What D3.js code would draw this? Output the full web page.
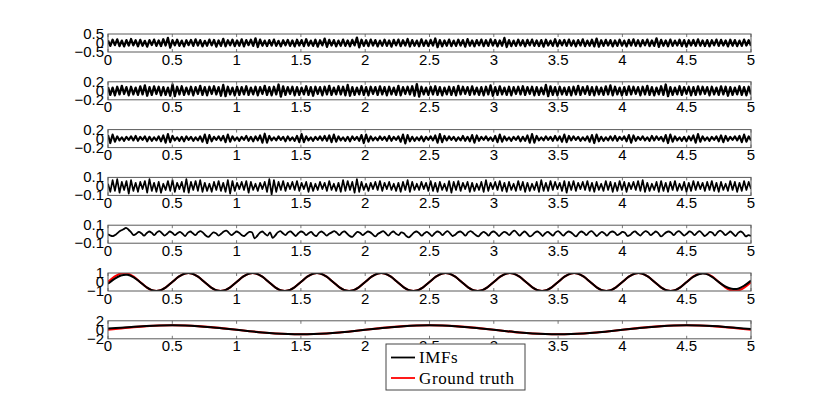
<!DOCTYPE html>
<html>
<head>
<meta charset="utf-8">
<script src="https://cdn.jsdelivr.net/npm/d3@7"></script>
<style>
body { margin: 0; background: #fff; }
svg text { font-family: "Liberation Sans", Arial, sans-serif; }
</style>
</head>
<body>
<svg id="chart" width="830" height="397"></svg>
<script>
// x ticks, shared by every panel
const xTicks = [0, 0.5, 1, 1.5, 2, 2.5, 3, 3.5, 4, 4.5, 5]
const xTickLabels = ["0", "0.5", "1", "1.5", "2", "2.5", "3", "3.5", "4", "4.5", "5"]

// symmetric y limit and tick labels of each panel
const yLimits = [0.5, 0.2, 0.2, 0.1, 0.1, 1, 2]
const yTickLabels = [
    ["0.5", "0", "\u22120.5"],
    ["0.2", "0", "\u22120.2"],
    ["0.2", "0", "\u22120.2"],
    ["0.1", "0", "\u22120.1"],
    ["0.1", "0", "\u22120.1"],
    ["1", "0", "\u22121"],
    ["2", "0", "\u22122"]
]

// IMF 1 (noise)
const imf1 = [
    .14,-.16,.18,-.12,.20,-.17,.13,-.19,.16,-.14,.22,-.13,.15,-.18,.17,-.15,.12,-.20,.16,-.11,
    .19,-.16,.14,-.17,.21,-.14,.28,-.26,.16,-.13,.18,-.16,.13,-.19,.15,-.12,.17,-.16,.20,-.14,
    .16,-.18,.12,-.15,.19,-.13,.17,-.20,.14,-.16,.23,-.18,.15,-.13,.18,-.17,.14,-.15,.20,-.19,
    .16,-.12,.18,-.16,.26,-.22,.19,-.15,.13,-.17,.16,-.14,.19,-.16,.12,-.18,.15,-.13,.17,-.16,
    .14,-.19,.18,-.14,.16,-.17,.21,-.15,.13,-.16,.18,-.20,.15,-.13,.24,-.21,.17,-.14,.16,-.18,
    .13,-.15,.19,-.16,.14,-.18,.17,-.13,.30,-.24,.18,-.16,.15,-.17,.19,-.14,.16,-.19,.13,-.15,
    .18,-.16,.14,-.20,.17,-.13,.19,-.17,.15,-.14,.22,-.19,.16,-.15,.13,-.18,.20,-.16,.14,-.17,
    .17,-.14,.25,-.23,.16,-.18,.14,-.15,.19,-.17,.13,-.16,.18,-.14,.16,-.20,.21,-.15,.14,-.18,
    .16,-.13,.19,-.17,.15,-.16,.20,-.14,.17,-.19,.14,-.15,.28,-.22,.16,-.17,.13,-.16,.18,-.14,
    .15,-.18,.17,-.13,.19,-.16,.14,-.17,.16,-.20,.18,-.14,.13,-.16,.21,-.18,.15,-.13,.17,-.16,
    .19,-.15,.14,-.18,.16,-.14,.20,-.17,.13,-.15,.18,-.19,.24,-.20,.15,-.16,.17,-.14,.16,-.18,
    .14,-.16,.18,-.15,.13,-.19,.17,-.14,.20,-.16,.15,-.18,.16,-.13,.19,-.17,.14,-.16,.26,-.21,
    .17,-.15,.14,-.18,.19,-.16,.13,-.14,.18,-.17,.16,-.20,.15,-.14,.17,-.16,.20,-.15,.14,-.17,
    .16,-.18,.15,-.13,.19,-.16,.17,-.14,.14,-.19,.18,-.15,.16,-.17,.13,-.16,.19,-.14,.15,-.16
]

// IMF 2
const imf2 = [
    .08,-.09,.07,-.10,.09,-.08,.11,-.07,.08,-.10,.09,-.08,.07,-.09,.10,-.08,.12,-.11,.08,-.09,
    .10,-.07,.09,-.10,.08,-.09,.07,-.11,.14,-.12,.09,-.08,.10,-.09,.07,-.08,.09,-.10,.08,-.07,
    .11,-.09,.08,-.10,.09,-.07,.10,-.08,.08,-.11,.13,-.12,.09,-.08,.07,-.10,.09,-.09,.08,-.08,
    .10,-.09,.07,-.08,.09,-.10,.08,-.07,.11,-.09,.08,-.10,.09,-.08,.14,-.13,.10,-.09,.08,-.07,
    .09,-.10,.08,-.09,.07,-.08,.10,-.09,.08,-.11,.09,-.07,.08,-.10,.09,-.08,.11,-.09,.07,-.08,
    .10,-.08,.09,-.10,.13,-.11,.08,-.09,.07,-.08,.10,-.09,.08,-.10,.09,-.07,.08,-.09,.10,-.08,
    .08,-.10,.09,-.08,.07,-.09,.11,-.10,.08,-.07,.09,-.08,.10,-.11,.15,-.13,.09,-.08,.07,-.09,
    .09,-.08,.10,-.09,.08,-.10,.07,-.08,.09,-.09,.08,-.10,.11,-.08,.09,-.07,.08,-.09,.10,-.08,
    .07,-.09,.08,-.10,.09,-.08,.12,-.11,.08,-.09,.10,-.08,.07,-.09,.09,-.10,.08,-.07,.09,-.08,
    .10,-.09,.08,-.07,.09,-.10,.08,-.09,.07,-.08,.13,-.12,.10,-.09,.08,-.10,.09,-.08,.07,-.09,
    .08,-.10,.09,-.08,.11,-.09,.08,-.07,.10,-.09,.08,-.10,.09,-.08,.07,-.09,.10,-.08,.12,-.10,
    .09,-.08,.07,-.10,.08,-.09,.10,-.08,.09,-.07,.08,-.10,.09,-.08,.11,-.09,.08,-.10,.07,-.08,
    .10,-.09,.14,-.12,.08,-.09,.07,-.08,.10,-.09,.08,-.07,.09,-.10,.08,-.09,.10,-.08,.09,-.07,
    .08,-.10,.09,-.08,.07,-.09,.10,-.08,.09,-.11,.08,-.09,.07,-.08,.10,-.09,.08,-.10,.09,-.08
]

// IMF 3 (bursty)
const imf3 = [
    .08,-.10,.09,-.07,.05,-.04,.03,-.05,.04,-.03,.05,-.04,.06,-.05,.04,-.03,.05,-.06,.04,-.05,
    .03,-.04,.05,-.06,.07,-.09,.10,-.08,.06,-.04,.03,-.05,.04,-.06,.05,-.03,.04,-.05,.03,-.04,
    .05,-.07,.09,-.10,.08,-.06,.04,-.03,.05,-.04,.06,-.08,.09,-.07,.05,-.04,.03,-.05,.04,-.03,
    .06,-.05,.04,-.06,.05,-.04,.07,-.09,.11,-.09,.06,-.04,.03,-.04,.05,-.03,.04,-.06,.05,-.04,
    .03,-.05,.06,-.08,.10,-.08,.05,-.04,.03,-.05,.04,-.03,.05,-.04,.06,-.05,.07,-.08,.09,-.07,
    .05,-.04,.03,-.05,.04,-.06,.05,-.03,.04,-.05,.08,-.10,.09,-.07,.05,-.04,.03,-.04,.05,-.03,
    .04,-.05,.06,-.05,.04,-.03,.05,-.07,.09,-.11,.08,-.06,.04,-.05,.03,-.04,.05,-.06,.04,-.03,
    .05,-.04,.07,-.09,.10,-.08,.06,-.04,.05,-.03,.04,-.05,.03,-.04,.06,-.05,.04,-.06,.08,-.09,
    .07,-.05,.04,-.03,.05,-.04,.03,-.05,.06,-.08,.09,-.07,.05,-.04,.03,-.05,.04,-.03,.05,-.06,
    .04,-.05,.07,-.09,.10,-.09,.06,-.04,.03,-.04,.05,-.03,.04,-.05,.06,-.04,.05,-.07,.09,-.08,
    .06,-.04,.05,-.03,.04,-.05,.03,-.04,.05,-.07,.08,-.10,.09,-.06,.04,-.05,.03,-.04,.05,-.04,
    .06,-.05,.04,-.03,.05,-.06,.08,-.09,.07,-.05,.04,-.03,.05,-.04,.03,-.05,.06,-.04,.05,-.03,
    .04,-.06,.08,-.10,.09,-.07,.05,-.04,.03,-.05,.04,-.06,.05,-.04,.07,-.09,.10,-.07,.05,-.04,
    .03,-.05,.04,-.03,.05,-.06,.07,-.08,.06,-.05,.04,-.03,.05,-.04,.06,-.08,.09,-.07,.05,-.04
]

// IMF 4
const imf4 = [
    .03,-.06,.07,-.05,.08,-.07,.05,-.04,.06,-.08,.07,-.05,.04,-.06,.05,-.03,.06,-.07,.08,-.05,
    .04,-.06,.05,-.07,.03,-.04,.06,-.05,.07,-.06,.04,-.03,.05,-.06,.08,-.07,.05,-.04,.06,-.05,
    .07,-.06,.04,-.05,.03,-.06,.05,-.04,.06,-.05,.04,-.06,.07,-.08,.06,-.05,.04,-.03,.05,-.04,
    .06,-.07,.05,-.04,.03,-.05,.04,-.03,.05,-.06,.08,-.09,.07,-.06,.05,-.04,.06,-.05,.04,-.03,
    .05,-.04,.06,-.05,.04,-.03,.05,-.06,.04,-.05,.03,-.04,.05,-.03,.04,-.05,.06,-.04,.03,-.05,
    .04,-.06,.07,-.05,.06,-.04,.05,-.07,.08,-.06,.05,-.04,.03,-.05,.04,-.03,.05,-.04,.06,-.05,
    .04,-.03,.05,-.04,.03,-.05,.04,-.06,.05,-.04,.07,-.06,.05,-.04,.03,-.04,.05,-.03,.04,-.05,
    .06,-.05,.04,-.06,.05,-.04,.03,-.05,.06,-.07,.05,-.04,.06,-.05,.04,-.03,.05,-.06,.04,-.05,
    .03,-.04,.05,-.06,.07,-.05,.04,-.03,.05,-.04,.06,-.05,.04,-.06,.05,-.04,.03,-.05,.06,-.04,
    .05,-.06,.04,-.05,.03,-.04,.05,-.06,.07,-.05,.04,-.05,.06,-.04,.05,-.03,.04,-.05,.06,-.07,
    .05,-.04,.06,-.05,.04,-.03,.05,-.04,.06,-.05,.04,-.06,.05,-.04,.03,-.05,.06,-.04,.05,-.06,
    .04,-.05,.06,-.04,.05,-.06,.04,-.03,.05,-.04,.06,-.05,.07,-.06,.04,-.05,.03,-.04,.05,-.06,
    .06,-.05,.04,-.06,.05,-.04,.06,-.05,.03,-.04,.05,-.06,.04,-.05,.06,-.04,.05,-.03,.04,-.05,
    .05,-.04,.06,-.05,.04,-.06,.05,-.04,.03,-.05,.06,-.04,.05,-.06,.04,-.05,.06,-.04,.05,-.03
]

// IMF 5 (slow wiggles, sampled every 0.02 s)
const imf5 = [
    0,-.015,-.02,-.005,.02,.04,.055,.07,.05,.02,-.01,.005,.025,.01,-.015,.01,.03,.015,-.01,.02,.035,.01,-.015,.005,.03,
    .015,-.01,.01,.025,.005,-.02,.015,.03,.01,-.01,.02,.035,.015,-.015,-.03,-.005,.02,.01,-.015,.005,.03,.04,.015,-.01,.01,
    .03,.015,-.01,-.02,.005,.025,.02,-.045,-.02,.015,.03,.005,-.015,.02,-.04,-.015,.02,.035,.01,-.01,.02,.03,.005,-.02,.01,
    .03,.02,-.01,.01,.025,-.005,-.02,.015,.03,.01,-.015,.005,.02,.035,.015,-.01,.02,.03,.005,-.02,-.03,0,.025,.015,-.01,
    .01,.03,.02,-.005,-.025,.005,.02,.035,.01,-.015,.015,.03,.005,-.01,.02,.01,-.02,-.035,-.01,.02,.03,.01,-.015,.01,.025,
    .005,-.02,.01,.03,.02,-.01,.015,.035,.01,-.02,-.005,.02,.03,.01,-.015,.02,.035,.015,-.01,-.025,.005,.025,.01,-.015,.02,
    .03,.01,-.02,.005,.025,.015,-.01,.02,.04,.015,-.015,.01,.03,.005,-.025,-.01,.02,.03,.01,-.02,.01,.025,.005,-.015,.02,
    .035,.01,-.015,.01,.03,.02,-.005,-.025,.01,.03,.015,-.01,.02,.035,.01,-.02,.005,.025,.01,-.015,.015,.03,.02,-.01,.005,
    .025,.015,-.02,-.01,.02,.03,.005,-.015,.015,.035,.02,-.01,.01,.03,.01,-.025,-.005,.02,.03,.015,-.01,.02,.035,.01,-.015,
    .005,.03,.02,-.01,.015,.035,.01,-.02,0,.025,.015,-.015,.02,.04,.02,-.01,.01,.03,.005,-.02,.015,.03,.01,-.025,-.01,
    -.02
]

// IMF 6 and its ground truth (sampled every 0.05 s)
const imf6 = [
    -.2,.35,.72,.8,.52,-.02,-.58,-.94,-.95,-.59,
    0,.59,.95,.95,.59,0,-.59,-.95,-.95,-.59,
    0,.59,.95,.95,.59,0,-.59,-.95,-.95,-.59,
    0,.59,.95,.95,.59,0,-.59,-.95,-.95,-.59,
    0,.59,.95,.95,.59,0,-.59,-.95,-.95,-.59,
    0,.59,.95,.95,.59,0,-.59,-.95,-.95,-.59,
    0,.59,.95,.95,.59,0,-.59,-.95,-.95,-.59,
    0,.59,.95,.95,.59,0,-.59,-.95,-.95,-.59,
    0,.59,.95,.95,.59,0,-.59,-.95,-.95,-.59,
    0,.56,.9,.9,.55,-.02,-.5,-.76,-.74,-.38,
    .15
]
const truth6 = [
    0,.59,.95,.95,.59,0,-.59,-.95,-.95,-.59,
    0,.59,.95,.95,.59,0,-.59,-.95,-.95,-.59,
    0,.59,.95,.95,.59,0,-.59,-.95,-.95,-.59,
    0,.59,.95,.95,.59,0,-.59,-.95,-.95,-.59,
    0,.59,.95,.95,.59,0,-.59,-.95,-.95,-.59,
    0,.59,.95,.95,.59,0,-.59,-.95,-.95,-.59,
    0,.59,.95,.95,.59,0,-.59,-.95,-.95,-.59,
    0,.59,.95,.95,.59,0,-.59,-.95,-.95,-.59,
    0,.59,.95,.95,.59,0,-.59,-.95,-.95,-.59,
    0,.59,.95,.95,.59,0,-.59,-.95,-.95,-.59,
    0
]

// IMF 7 (residual trend) and its ground truth (sampled every 0.1 s)
const imf7 = [
    .3,.48,.66,.83,.95,1,.95,.81,.59,.31,0,-.31,-.59,-.81,-.95,-1,-.95,-.81,-.59,-.31,
    0,.31,.59,.81,.95,1,.95,.81,.59,.31,0,-.31,-.59,-.81,-.95,-1,-.95,-.81,-.59,-.31,
    0,.31,.59,.81,.95,1,.95,.83,.64,.4,.2
]
const truth7 = [
    0,.31,.59,.81,.95,1,.95,.81,.59,.31,0,-.31,-.59,-.81,-.95,-1,-.95,-.81,-.59,-.31,
    0,.31,.59,.81,.95,1,.95,.81,.59,.31,0,-.31,-.59,-.81,-.95,-1,-.95,-.81,-.59,-.31,
    0,.31,.59,.81,.95,1,.95,.81,.59,.31,0
]

const legendLabels = ["IMFs", "Ground truth"]
const imfSeries = [imf1, imf2, imf3, imf4, imf5, imf6, imf7]
const truthSeries = [null, null, null, null, null, truth6, truth7]
const lineWidths = [2.3, 2.3, 2.1, 1.7, 1.8, 2, 2]

// layout
const plotLeft = 108, plotRight = 751
const panelH = 18, firstCenter = 43, panelStep = 47.8

const svg = d3.select("#chart")

const x = d3.scaleLinear().domain([0, 5]).range([plotLeft, plotRight])

// build line points from a series sampled evenly over [0, 5]
function toPoints(values) {
    let t = d3.scaleLinear().domain([0, values.length - 1]).range([0, 5])
    return values.map((v, i) => [t(i), v])
}

function drawPanel(k) {
    let top = firstCenter + panelStep * k - panelH / 2
    let bottom = top + panelH
    let lim = yLimits[k]
    let y = d3.scaleLinear().domain([-lim, lim]).range([bottom, top])

    let g = svg.append("g")

    g.append("clipPath").attr("id", "clip" + k)
        .append("rect")
        .attr("x", plotLeft).attr("y", top)
        .attr("width", plotRight - plotLeft).attr("height", panelH)

    let smooth = k >= 4
    let line = d3.line()
        .x(d => x(d[0]))
        .y(d => y(d[1]))
        .curve(smooth ? d3.curveCatmullRom : d3.curveLinear)

    let data = g.append("g").attr("clip-path", "url(#clip" + k + ")")

    if (truthSeries[k]) {
        data.append("path")
            .attr("d", line(toPoints(truthSeries[k])))
            .attr("fill", "none")
            .attr("stroke", "#ff0000")
            .attr("stroke-width", 2.1)
    }
    data.append("path")
        .attr("d", line(toPoints(imfSeries[k])))
        .attr("fill", "none")
        .attr("stroke", "#000")
        .attr("stroke-width", lineWidths[k])
        .attr("stroke-linejoin", "round")

    // ticks, inward at top and bottom
    xTicks.forEach(t => {
        g.append("line")
            .attr("x1", x(t)).attr("x2", x(t))
            .attr("y1", bottom).attr("y2", bottom - 3)
            .attr("stroke", "#777")
        g.append("line")
            .attr("x1", x(t)).attr("x2", x(t))
            .attr("y1", top).attr("y2", top + 3)
            .attr("stroke", "#777")
    })

    // axes box
    g.append("rect")
        .attr("x", plotLeft).attr("y", top)
        .attr("width", plotRight - plotLeft).attr("height", panelH)
        .attr("fill", "none")
        .attr("stroke", "#5a5a5a")
        .attr("stroke-width", 1)

    // x tick labels
    g.selectAll(".xlab")
        .data(xTicks)
        .enter()
        .append("text")
        .attr("x", d => x(d))
        .attr("y", bottom + 12.5)
        .attr("text-anchor", "middle")
        .attr("font-size", 15)
        .attr("fill", "#000")
        .text((d, i) => xTickLabels[i])

    // y tick labels
    let yVals = [lim, 0, -lim]
    yVals.forEach((v, i) => {
        g.append("text")
            .attr("x", 104)
            .attr("y", y(v) + 5)
            .attr("text-anchor", "end")
            .attr("font-size", 15)
            .attr("fill", "#000")
            .text(yTickLabels[k][i])
    })
}

for (let k = 0; k < 7; k++) {
    drawPanel(k)
}

// legend
let legend = svg.append("g").attr("transform", "translate(386,344)")
legend.append("rect")
    .attr("width", 139).attr("height", 46)
    .attr("fill", "#fff")
    .attr("stroke", "#444")
    .attr("stroke-width", 1)

let legendColors = ["#000", "#ff0000"]
legendLabels.forEach((name, i) => {
    let ly = 13.5 + i * 20.5
    legend.append("line")
        .attr("x1", 5).attr("x2", 29)
        .attr("y1", ly).attr("y2", ly)
        .attr("stroke", legendColors[i])
        .attr("stroke-width", 1.8)
    legend.append("text")
        .attr("x", 33)
        .attr("y", ly + 5.5)
        .attr("font-size", 17)
        .attr("letter-spacing", 0.6)
        .style("font-family", "'Liberation Serif', 'Times New Roman', serif")
        .attr("fill", "#000")
        .text(name)
})
</script>
</body>
</html>
